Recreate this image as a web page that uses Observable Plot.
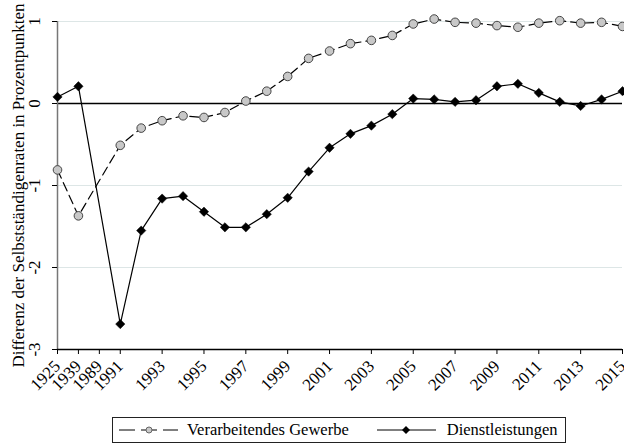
<!DOCTYPE html>
<html><head><meta charset="utf-8">
<script src="https://cdn.jsdelivr.net/npm/d3@7"></script>
<script src="https://cdn.jsdelivr.net/npm/@observablehq/plot@0.6"></script>
<style>
body{margin:0;background:#fff;font-family:'Liberation Serif','Times New Roman',serif;}
svg, svg text{font-family:'Liberation Serif','Times New Roman',serif !important;}
#legend{position:absolute;left:112px;top:417px;width:454px;height:26px;border:1px solid #222;box-sizing:border-box;display:flex;align-items:center;font-size:16.5px;}
#legend .it{display:flex;align-items:center;}
</style></head><body>
<div id="chart"></div>
<div id="legend"></div>
<script>
const categories = ["1925","1939","1989","1991","1992","1993","1994","1995","1996","1997","1998","1999","2000","2001","2002","2003","2004","2005","2006","2007","2008","2009","2010","2011","2012","2013","2014","2015"];
const tickLabels = ["1925","1939","1989","1991","1993","1995","1997","1999","2001","2003","2005","2007","2009","2011","2013","2015"];
// null = no value (1989)
const verarbeitendes = [-0.81,-1.37,null,-0.51,-0.30,-0.21,-0.15,-0.17,-0.11,0.03,0.15,0.33,0.55,0.64,0.73,0.77,0.83,0.97,1.03,0.99,0.98,0.95,0.93,0.98,1.01,0.98,0.99,0.94];
const dienst = [0.08,0.21,null,-2.69,-1.55,-1.16,-1.13,-1.32,-1.51,-1.51,-1.35,-1.15,-0.83,-0.54,-0.37,-0.27,-0.13,0.06,0.05,0.02,0.04,0.21,0.24,0.13,0.02,-0.03,0.05,0.15];
const seriesNames = ["Verarbeitendes Gewerbe","Dienstleistungen"];
const yTicks = [1,0,-1,-2,-3];

const toRows = vals => categories.map((c,i)=>({year:c,value:vals[i]})).filter(d=>d.value!=null);
const vg = toRows(verarbeitendes), dl = toRows(dienst);

const plot = Plot.plot({
  width:624, height:410,
  marginLeft:57, marginRight:2, marginTop:21, marginBottom:61,
  style:{fontSize:"17px", color:"#000", background:"#fff"},
  x:{type:"point", domain:categories, padding:0, round:false},
  y:{domain:[-3,1]},
  marks:[
    Plot.gridY([1,-1,-2],{stroke:"#dde6e6",strokeOpacity:1}),
    Plot.ruleY([0],{stroke:"#000",strokeWidth:1.3}),
    Plot.ruleX([categories[0]],{stroke:"#777",strokeWidth:1.5}),
    Plot.ruleY([-3],{stroke:"#000",strokeWidth:1.3}),
    Plot.axisY({ticks:yTicks, tickSize:5, tickRotate:-90, tickPadding:13, tickFormat:d=>String(d).replace("−","-"), fontSize:17,
      label:"Differenz der Selbstständigenraten in Prozentpunkten", labelAnchor:"center", labelOffset:46, labelArrow:"none"}),
    Plot.axisX({ticks:tickLabels, tickSize:5, tickRotate:-45, tickPadding:9, label:null, fontSize:17}),
    Plot.line(vg,{x:"year",y:"value",stroke:"#000",strokeWidth:1.2,strokeDasharray:"9,5"}),
    Plot.line(dl,{x:"year",y:"value",stroke:"#000",strokeWidth:1.2}),
    Plot.dot(vg,{x:"year",y:"value",r:4.3,fill:"#c8c8c8",stroke:"#444",strokeWidth:1,symbol:"circle"}),
    Plot.dot(dl,{x:"year",y:"value",r:4.2,fill:"#000",stroke:"#000",strokeWidth:0.5,symbol:"diamond2"})
  ]
});
document.getElementById("chart").appendChild(plot);

const lg = document.getElementById("legend");
lg.innerHTML = `
<div class="it" style="margin-left:6px"><svg width="59" height="12"><line x1="0" y1="6" x2="59" y2="6" stroke="#000" stroke-dasharray="16,6"/><circle cx="30" cy="6" r="3" fill="#c8c8c8" stroke="#666"/></svg><span style="margin-left:9px">${seriesNames[0]}</span></div>
<div class="it" style="margin-left:28px"><svg width="59" height="12"><line x1="0" y1="6" x2="59" y2="6" stroke="#000"/><path d="M29,2L33,6L29,10L25,6Z" fill="#000"/></svg><span style="margin-left:11px">${seriesNames[1]}</span></div>`;
</script>
</body></html>
